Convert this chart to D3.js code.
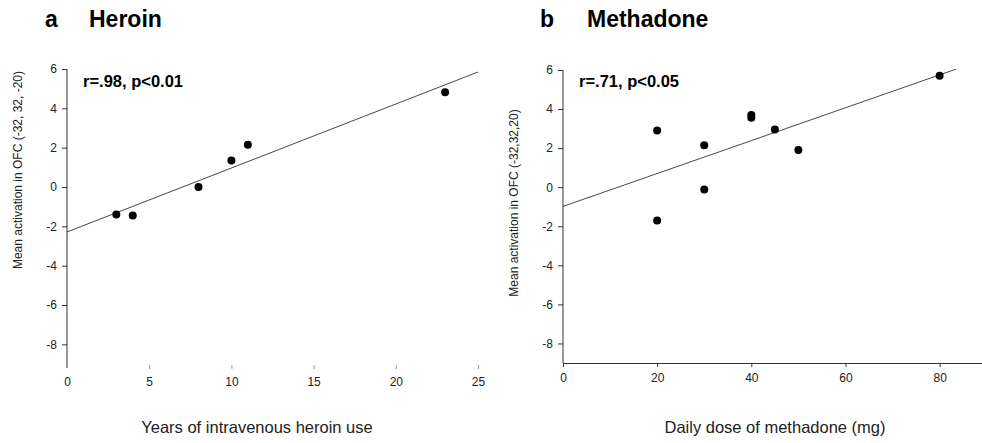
<!DOCTYPE html>
<html>
<head>
<meta charset="utf-8">
<script src="https://cdn.jsdelivr.net/npm/d3@7"></script>
<style>
  body { margin: 0; background: #fff; }
  svg { font-family: "Liberation Sans", Arial, sans-serif; }
</style>
</head>
<body>
<svg id="chart" width="982" height="443"></svg>
<script>
// Heroin panel data
const heroinYears = [3, 4, 8, 10, 11, 23];
const heroinOFC = [-1.4, -1.45, 0.0, 1.35, 2.15, 4.82];
const heroinXTicks = [0, 5, 10, 15, 20, 25];

// Methadone panel data
const methadoneDose = [20, 20, 30, 30, 40, 40, 45, 50, 80];
const methadoneOFC = [2.9, -1.7, 2.15, -0.12, 3.7, 3.55, 2.95, 1.9, 5.7];
const methadoneXTicks = [0, 20, 40, 60, 80];

const yTicks = [-8, -6, -4, -2, 0, 2, 4, 6];

const svg = d3.select('#chart');

// least squares fit
function fit(xs, ys) {
  const mx = d3.mean(xs), my = d3.mean(ys);
  let sxy = 0, sxx = 0;
  xs.forEach((x, i) => { sxy += (x - mx) * (ys[i] - my); sxx += (x - mx) * (x - mx); });
  const b = sxy / sxx;
  return { slope: b, intercept: my - b * mx };
}

const plain = d => String(d); // hyphen minus like the original

function panel(opts) {
  const x = d3.scaleLinear().domain(opts.xDomain).range(opts.xRange);
  const y = d3.scaleLinear().domain([-9, 6]).range(opts.yRange);
  const g = svg.append('g');

  // panel letter + title
  g.append('text').attr('x', opts.letterX).attr('y', 27)
    .style('font-size', '23px').style('font-weight', 'bold').text(opts.letter);
  g.append('text').attr('x', opts.titleX).attr('y', 27)
    .style('font-size', '23px').style('font-weight', 'bold').text(opts.title);

  // y axis
  const yAxis = g.append('g')
    .attr('transform', `translate(${opts.xRange[0]},0)`)
    .call(d3.axisLeft(y).tickValues(yTicks).tickFormat(plain).tickSize(5).tickPadding(5).tickSizeOuter(0));
  yAxis.select('.domain').attr('stroke', '#333').attr('d', `M0,${y(6)}V${opts.yAxisBottom}`);
  yAxis.selectAll('.tick line').attr('stroke', '#333');
  yAxis.selectAll('.tick text').style('font-size', '12px').attr('fill', '#222');

  // x axis
  const xAxis = g.append('g')
    .attr('transform', `translate(0,${opts.xAxisY})`)
    .call(d3.axisBottom(x).tickValues(opts.xTicks).tickFormat(plain).tickSize(opts.xTickSize).tickPadding(opts.xTickPad).tickSizeOuter(0));
  if (opts.showXDomain) {
    xAxis.select('.domain').attr('stroke', '#333');
    xAxis.selectAll('.tick line').attr('stroke', '#333');
  } else {
    xAxis.select('.domain').remove();
    xAxis.selectAll('.tick line').attr('stroke', (d, i) => (i === 0 ? 'none' : '#999'));
  }
  xAxis.selectAll('.tick text').style('font-size', '12px').attr('fill', '#222');

  // regression line
  const f = fit(opts.xs, opts.ys);
  g.append('line')
    .attr('x1', x(0)).attr('y1', y(f.intercept))
    .attr('x2', x(opts.lineEnd)).attr('y2', y(f.intercept + f.slope * opts.lineEnd))
    .attr('stroke', '#333').attr('stroke-width', 0.9);

  // points
  g.append('g').selectAll('circle')
    .data(opts.xs.map((v, i) => [v, opts.ys[i]]))
    .enter().append('circle')
    .attr('cx', d => x(d[0])).attr('cy', d => y(d[1])).attr('r', 4)
    .attr('fill', '#000');

  // stats annotation
  g.append('text').attr('x', opts.xRange[0] + 16).attr('y', 87)
    .style('font-size', '16.5px').style('font-weight', 'bold').text(opts.stats);

  // axis titles
  g.append('text').attr('x', opts.xTitleX).attr('y', 433)
    .attr('text-anchor', 'middle').style('font-size', '16.5px').attr('fill', '#222')
    .text(opts.xTitle);
  g.append('text')
    .attr('transform', `translate(${opts.yTitleX},${opts.yTitleY}) rotate(-90)`)
    .attr('text-anchor', 'middle').style('font-size', '12px').attr('fill', '#222')
    .text(opts.yTitle);
}

panel({
  letter: 'a', letterX: 45, title: 'Heroin', titleX: 89,
  xDomain: [0, 25], xRange: [67, 478], yRange: [364, 69], yAxisBottom: 368,
  xAxisY: 365, xTicks: heroinXTicks, xTickSize: 4, xTickPad: 8, showXDomain: false,
  xs: heroinYears, ys: heroinOFC, lineEnd: 25,
  stats: 'r=.98, p<0.01',
  xTitle: 'Years of intravenous heroin use', xTitleX: 257,
  yTitle: 'Mean activation in OFC (-32, 32, -20)', yTitleX: 22, yTitleY: 170
});

panel({
  letter: 'b', letterX: 540, title: 'Methadone', titleX: 587,
  xDomain: [0, 89], xRange: [563, 982], yRange: [363, 70], yAxisBottom: 363,
  xAxisY: 363, xTicks: methadoneXTicks, xTickSize: 4, xTickPad: 6, showXDomain: true,
  xs: methadoneDose, ys: methadoneOFC, lineEnd: 83.5,
  stats: 'r=.71, p<0.05',
  xTitle: 'Daily dose of methadone (mg)', xTitleX: 775,
  yTitle: 'Mean activation in OFC (-32,32,20)', yTitleX: 518, yTitleY: 203
});
</script>
</body>
</html>
